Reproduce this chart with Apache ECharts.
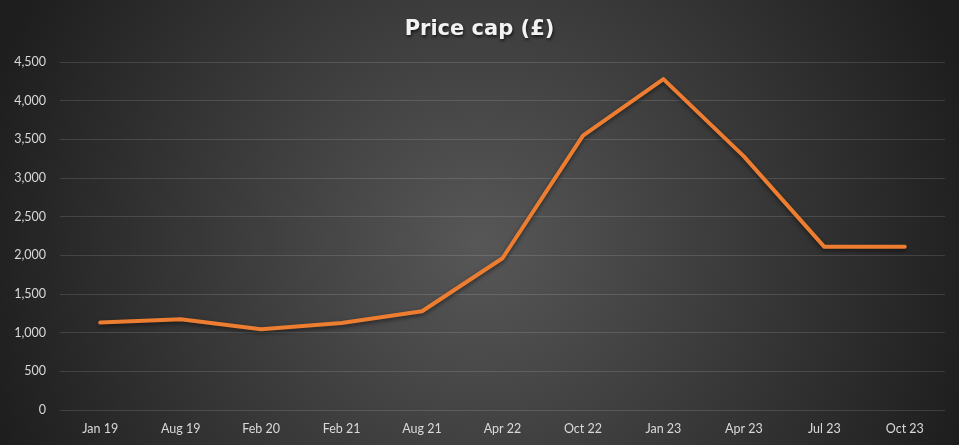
<!DOCTYPE html>
<html>
<head>
<meta charset="utf-8">
<script src="https://cdn.jsdelivr.net/npm/echarts@6/dist/echarts.min.js"></script>
<style>
html,body{margin:0;padding:0;background:#262626;}
#chart{width:959px;height:445px;}
</style>
</head>
<body>
<div id="chart"></div>
<script>
const categories = ['Jan 19','Aug 19','Feb 20','Feb 21','Aug 21','Apr 22','Oct 22','Jan 23','Apr 23','Jul 23','Oct 23'];
const priceCap = [1130, 1173, 1043, 1125, 1277, 1962, 3549, 4279, 3280, 2110, 2110];
const yTicks = {min: 0, max: 4500, interval: 500};

const chart = echarts.init(document.getElementById('chart'));
chart.setOption({
  backgroundColor: {
    type: 'radial', x: 0.5, y: 0.55, r: 1.15,
    colorStops: [{offset: 0, color: '#575757'}, {offset: 1, color: '#1e1e1e'}]
  },
  title: {
    text: 'Price cap (£)', left: 'center', top: 14,
    textStyle: {
      color: '#f2f2f2', fontFamily: 'DejaVu Sans', fontWeight: 'bold', fontSize: 21,
      textShadowColor: 'rgba(0,0,0,0.6)', textShadowBlur: 3, textShadowOffsetX: 1, textShadowOffsetY: 2
    }
  },
  grid: {left: 60, right: 14, top: 62, bottom: 35},
  xAxis: {
    type: 'category', data: categories, boundaryGap: true,
    axisLine: {show: false}, axisTick: {show: false},
    axisLabel: {color: '#d9d9d9', fontFamily: 'Lato', fontSize: 12.5, margin: 12}
  },
  yAxis: {
    type: 'value', min: yTicks.min, max: yTicks.max, interval: yTicks.interval,
    axisLine: {show: false}, axisTick: {show: false},
    axisLabel: {color: '#d9d9d9', fontFamily: 'Lato', fontSize: 12.5, margin: 14,
      formatter: v => v.toLocaleString('en-GB')},
    splitLine: {lineStyle: {color: 'rgba(255,255,255,0.13)', width: 1}}
  },
  series: [{
    type: 'line', data: priceCap, symbol: 'none', smooth: false,
    lineStyle: {color: '#ED7D31', width: 4, cap: 'round', join: 'round',
      shadowColor: 'rgba(0,0,0,0.5)', shadowBlur: 4, shadowOffsetY: 2},
    animation: false
  }],
  animation: false
});
</script>
</body>
</html>
